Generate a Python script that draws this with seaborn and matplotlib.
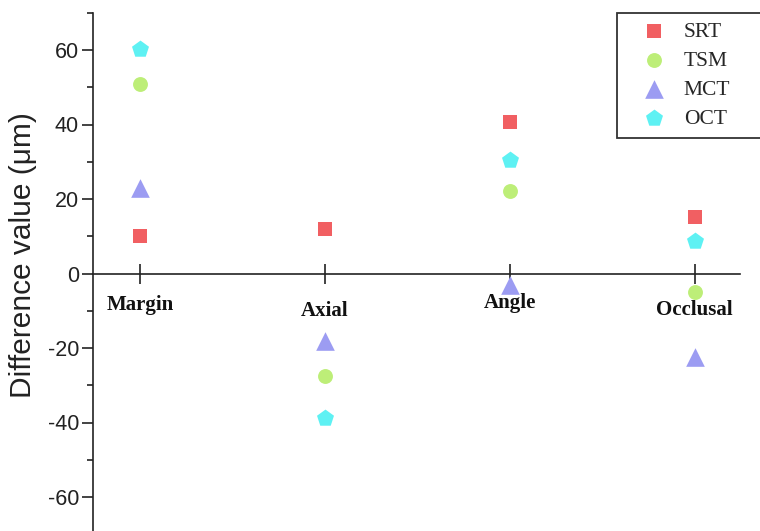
import matplotlib
matplotlib.use("Agg")
import matplotlib.pyplot as plt
from matplotlib.ticker import MultipleLocator
import numpy as np
import pandas as pd
import seaborn as sns

# Measurement regions and the four methods compared
regions = ["Margin", "Axial", "Angle", "Occlusal"]
methods = ["SRT", "TSM", "MCT", "OCT"]

# Difference values (µm) per method, one entry per region
srt = [10.2, 12.0, 40.6, 15.1]
tsm = [50.9, -27.5, 22.1, -5.0]
mct = [23.0, -18.1, -3.1, -22.4]
oct_ = [60.2, -38.9, 30.4, 8.6]

y_ticks = [-60, -40, -20, 0, 20, 40, 60]

df = pd.DataFrame({
    "region": np.tile(np.arange(len(regions)), len(methods)),
    "method": np.repeat(methods, len(regions)),
    "value": srt + tsm + mct + oct_,
})

sns.set_theme(style="white")
plt.rcParams["font.family"] = ["Liberation Sans", "DejaVu Sans"]
plt.rcParams["axes.unicode_minus"] = False

palette = {"SRT": "#f15f62", "TSM": "#bdee78", "MCT": "#9c9cf2", "OCT": "#5ef1f3"}
markers = {"SRT": "s", "TSM": "o", "MCT": "^", "OCT": "p"}
sizes = {"SRT": 105, "TSM": 115, "MCT": 180, "OCT": 165}

fig = plt.figure(figsize=(7.6, 5.31), dpi=100)
ax = fig.add_axes([93 / 760, 1 - 534.25 / 531, 647 / 760, 521.5 / 531])

for m in methods:
    sns.scatterplot(data=df[df["method"] == m], x="region", y="value",
                    color=palette[m], marker=markers[m], s=sizes[m],
                    linewidth=0, ax=ax, label=m, zorder=3)

ax.set_xlim(-0.253, 3.245)
ax.set_ylim(-70, 70)

# Spines: left axis plus a horizontal axis through zero
for side in ("top", "right"):
    ax.spines[side].set_visible(False)
ax.spines["bottom"].set_position(("data", 0))
for side in ("left", "bottom"):
    ax.spines[side].set_color("#222222")
    ax.spines[side].set_linewidth(1.2)

ax.set_yticks(y_ticks)
ax.yaxis.set_minor_locator(MultipleLocator(10))
ax.tick_params(axis="y", which="major", direction="out", length=8, width=1.2,
               color="#222222", labelsize=15.5, labelcolor="#222222", pad=2, left=True)
ax.tick_params(axis="y", which="minor", direction="out", length=4.5, width=1.2,
               color="#222222", left=True)

ax.set_xticks(range(len(regions)))
ax.set_xticklabels([])
ax.tick_params(axis="x", which="major", direction="inout", length=14, width=1.2,
               color="#222222", bottom=True)
ax.set_xlabel("")

# Category names set just below the zero line
label_y = [-8.5, -10.1, -8.0, -9.8]
for i, name in enumerate(regions):
    ax.text(i, label_y[i], name, ha="center", va="center", fontsize=15,
            fontweight="bold", family="Liberation Serif", color="#111111")

ax.set_ylabel("Difference value (\u03bcm)", fontsize=21.5, color="#222222")
ax.yaxis.set_label_coords(-0.086, 0.535)

leg = ax.legend(loc="upper left",
                bbox_to_anchor=(617 / 760, 1 - 13 / 531 - 124 / 531, 170 / 760, 124 / 531),
                bbox_transform=fig.transFigure, mode="expand",
                prop={"family": "Liberation Serif", "size": 15.5},
                frameon=True, fancybox=False, handlelength=2.6, handletextpad=0.1,
                labelspacing=0.42, borderpad=0.4, borderaxespad=0)
frame = leg.get_frame()
frame.set_edgecolor("#333333")
frame.set_linewidth(1.3)
frame.set_alpha(1)

fig.savefig("out.png", dpi=100)
